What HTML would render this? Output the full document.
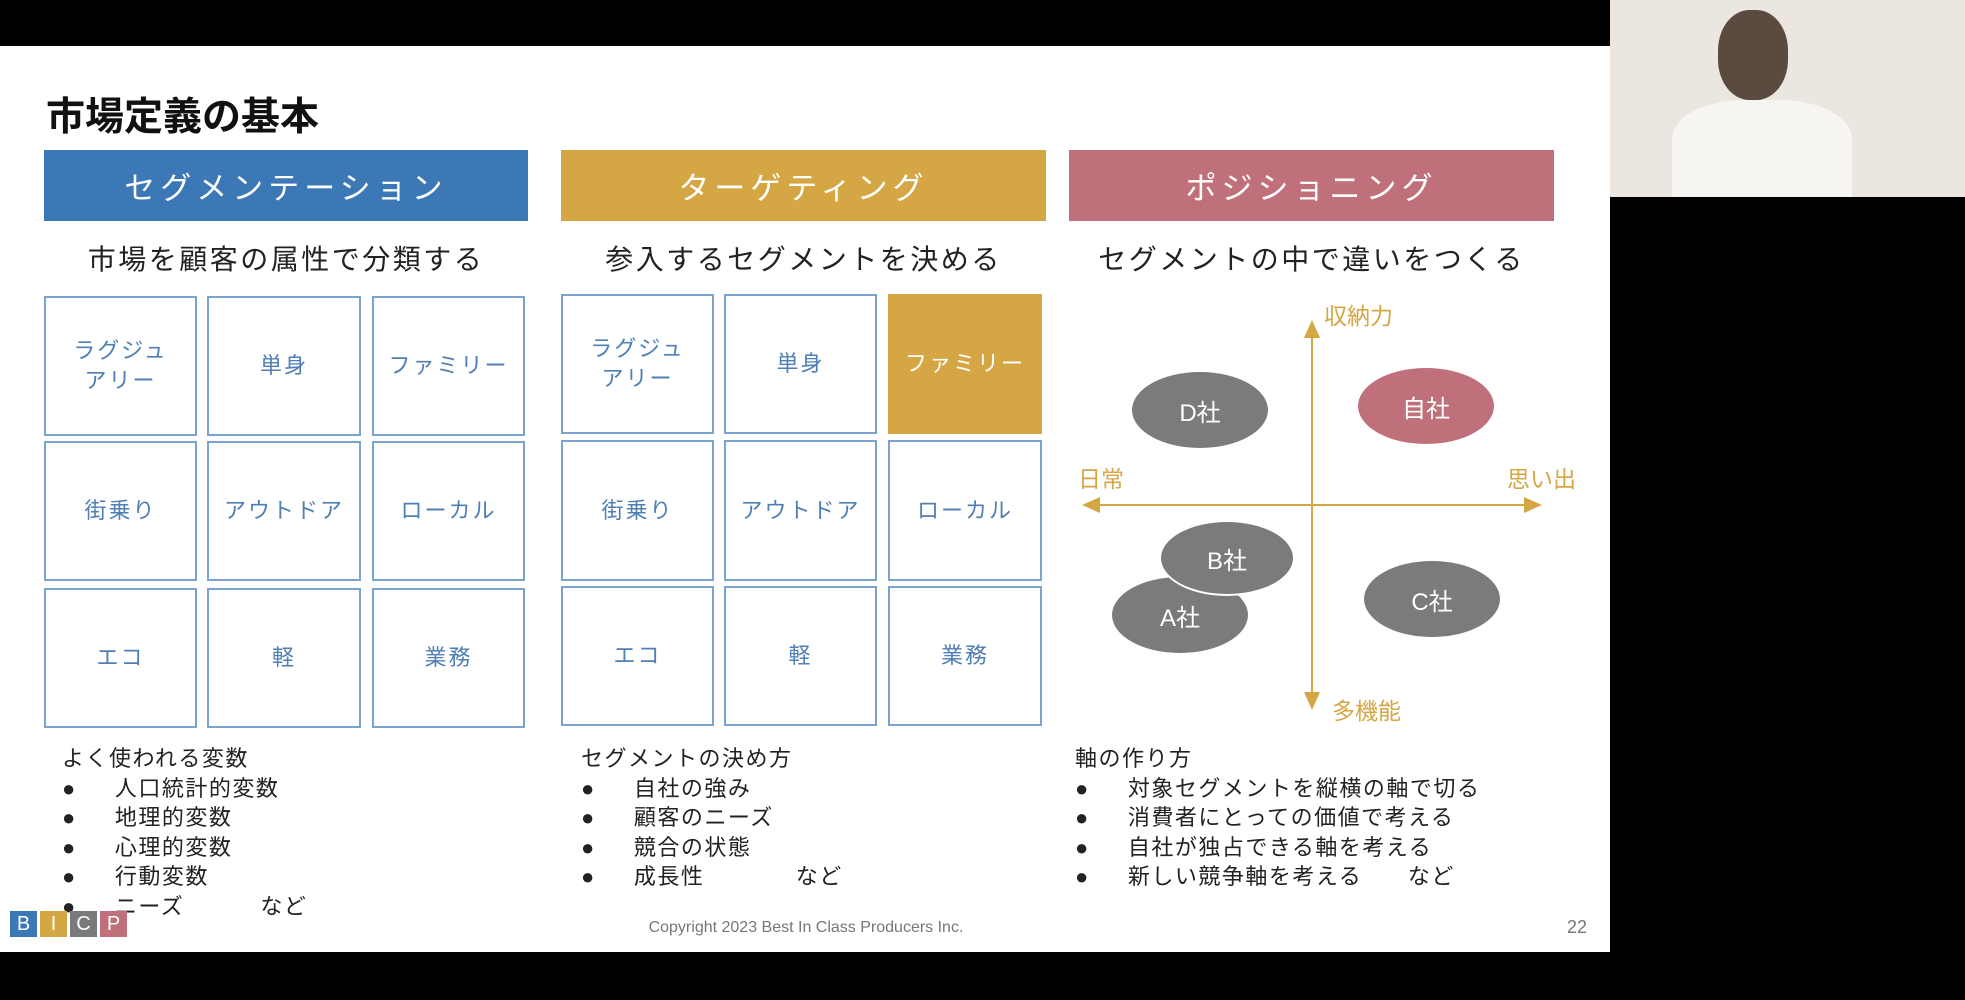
<!DOCTYPE html>
<html><head><meta charset="utf-8"><style>
body{margin:0;width:1965px;height:1000px;background:#000;position:relative;overflow:hidden;font-family:"Liberation Sans","Noto Sans CJK JP",sans-serif;}
.a{position:absolute}
.slide{left:0;top:46px;width:1610px;height:906px;background:#fff}
.hd{position:absolute;top:150px;height:71px;color:#fff;font-size:31px;letter-spacing:5px;display:flex;align-items:center;justify-content:center}
.sub{position:absolute;top:238px;font-size:28px;color:#222;text-align:center;letter-spacing:2.5px}
.c{position:absolute;border:2px solid #7aa3cf;box-sizing:border-box;color:#4f7fb4;font-size:22px;display:flex;align-items:center;justify-content:center;text-align:center;letter-spacing:2px;line-height:30px}
.l{position:absolute;font-size:22px;color:#222;line-height:29.5px;white-space:pre;letter-spacing:1.5px}
.e{position:absolute;background:#7b7b7b;border-radius:50%;color:#fff;font-size:24px;display:flex;align-items:center;justify-content:center}
.ax{position:absolute;color:#d4a644;font-size:23px}
</style></head><body>
<div class="a slide"></div>
<div class="a" style="left:46px;top:86px;font-size:39px;font-weight:bold;color:#111">市場定義の基本</div>
<div class="hd" style="left:44px;width:484px;background:#3b78b5">セグメンテーション</div>
<div class="hd" style="left:561px;width:485px;background:#d4a644">ターゲティング</div>
<div class="hd" style="left:1069px;width:485px;background:#c0707a">ポジショニング</div>
<div class="sub" style="left:44px;width:484px">市場を顧客の属性で分類する</div>
<div class="sub" style="left:561px;width:485px">参入するセグメントを決める</div>
<div class="sub" style="left:1069px;width:485px">セグメントの中で違いをつくる</div>

<div class="c" style="left:44px;top:296px;width:153px;height:140px">ラグジュ<br>アリー</div>
<div class="c" style="left:207px;top:296px;width:154px;height:140px">単身</div>
<div class="c" style="left:372px;top:296px;width:153px;height:140px">ファミリー</div>
<div class="c" style="left:44px;top:441px;width:153px;height:140px">街乗り</div>
<div class="c" style="left:207px;top:441px;width:154px;height:140px">アウトドア</div>
<div class="c" style="left:372px;top:441px;width:153px;height:140px">ローカル</div>
<div class="c" style="left:44px;top:588px;width:153px;height:140px">エコ</div>
<div class="c" style="left:207px;top:588px;width:154px;height:140px">軽</div>
<div class="c" style="left:372px;top:588px;width:153px;height:140px">業務</div>

<div class="c" style="left:561px;top:294px;width:153px;height:140px">ラグジュ<br>アリー</div>
<div class="c" style="left:724px;top:294px;width:153px;height:140px">単身</div>
<div class="c" style="left:888px;top:294px;width:154px;height:140px;background:#d4a644;border-color:#d4a644;color:#fff">ファミリー</div>
<div class="c" style="left:561px;top:440px;width:153px;height:141px">街乗り</div>
<div class="c" style="left:724px;top:440px;width:153px;height:141px">アウトドア</div>
<div class="c" style="left:888px;top:440px;width:154px;height:141px">ローカル</div>
<div class="c" style="left:561px;top:586px;width:153px;height:140px">エコ</div>
<div class="c" style="left:724px;top:586px;width:153px;height:140px">軽</div>
<div class="c" style="left:888px;top:586px;width:154px;height:140px">業務</div>

<svg class="a" style="left:0;top:0" width="1610" height="1000">
<defs><marker id="m" markerWidth="10" markerHeight="10" refX="8" refY="5" orient="auto"><path d="M0,1 L9,5 L0,9 z" fill="#d4a644"/></marker></defs>
<line x1="1312" y1="705" x2="1312" y2="322" stroke="#d4a644" stroke-width="2" marker-end="url(#m)"/>
<line x1="1312" y1="322" x2="1312" y2="708" stroke="#d4a644" stroke-width="2" marker-end="url(#m)"/>
<line x1="1100" y1="505" x2="1540" y2="505" stroke="#d4a644" stroke-width="2" marker-end="url(#m)"/>
<line x1="1530" y1="505" x2="1084" y2="505" stroke="#d4a644" stroke-width="2" marker-end="url(#m)"/>
</svg>
<div class="ax" style="left:1324px;top:297px">収納力</div>
<div class="ax" style="left:1078px;top:460px">日常</div>
<div class="ax" style="left:1507px;top:460px">思い出</div>
<div class="ax" style="left:1332px;top:692px">多機能</div>
<div class="e" style="left:1132px;top:372px;width:136px;height:76px">D社</div>
<div class="e" style="left:1358px;top:368px;width:136px;height:76px;background:#c0707a">自社</div>
<div class="e" style="left:1112px;top:577px;width:136px;height:76px">A社</div>
<div class="e" style="left:1159px;top:520px;width:136px;height:76px;border:2px solid #fff;box-sizing:border-box">B社</div>
<div class="e" style="left:1364px;top:561px;width:136px;height:76px">C社</div>

<div class="l" style="left:62px;top:744px">よく使われる変数
●     人口統計的変数
●     地理的変数
●     心理的変数
●     行動変数
●     ニーズ          など</div>
<div class="l" style="left:581px;top:744px">セグメントの決め方
●     自社の強み
●     顧客のニーズ
●     競合の状態
●     成長性            など</div>
<div class="l" style="left:1075px;top:744px">軸の作り方
●     対象セグメントを縦横の軸で切る
●     消費者にとっての価値で考える
●     自社が独占できる軸を考える
●     新しい競争軸を考える      など</div>

<div class="a" style="left:10px;top:911px;display:flex;gap:3px">
<div style="width:27px;height:26px;background:#3b78b5;color:#fff;font-size:20px;text-align:center;line-height:26px">B</div>
<div style="width:27px;height:26px;background:#d4a644;color:#fff;font-size:20px;text-align:center;line-height:26px">I</div>
<div style="width:27px;height:26px;background:#7a7a7a;color:#fff;font-size:20px;text-align:center;line-height:26px">C</div>
<div style="width:27px;height:26px;background:#c0707a;color:#fff;font-size:20px;text-align:center;line-height:26px">P</div>
</div>
<div class="a" style="left:600px;top:919px;width:412px;text-align:center;font-size:16px;color:#777">Copyright 2023 Best In Class Producers Inc.</div>
<div class="a" style="left:1567px;top:917px;font-size:18px;color:#777">22</div>

<div class="a" style="left:1610px;top:0;width:355px;height:197px;background:#ebe6e0"></div>
<div class="a" style="left:1718px;top:10px;width:70px;height:90px;background:#5a4a40;border-radius:45%"></div>
<div class="a" style="left:1672px;top:100px;width:180px;height:97px;background:#f7f5f2;border-radius:40% 40% 0 0"></div>
</body></html>
